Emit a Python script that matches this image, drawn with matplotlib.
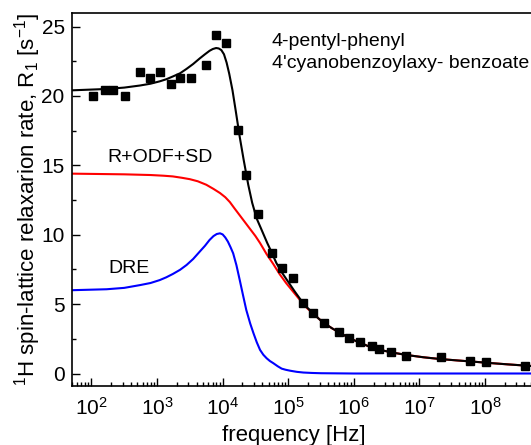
import numpy as np
import matplotlib
matplotlib.use("Agg")
import matplotlib.pyplot as plt
from matplotlib.ticker import MultipleLocator, LogLocator

# ---------------------------------------------------------
# data
# ---------------------------------------------------------

# measured R1 points
meas_freq = [105, 160, 210, 320, 550, 780, 1100, 1650, 2250, 3300,
             5600, 7900, 11200, 17000, 23000, 34500, 57500, 81000, 117000,
             170000, 240000, 355000, 600000, 850000, 1.23e6, 1.86e6,
             2.45e6, 3.7e6, 6.3e6, 2.1e7, 5.9e7, 1.05e8, 4.1e8]
meas_r1 = [20.0, 20.4, 20.4, 20.0, 21.75, 21.3, 21.75, 20.85, 21.3, 21.3,
           22.2, 24.4, 23.8, 17.55, 14.3, 11.5, 8.7, 7.6, 6.9,
           5.1, 4.37, 3.65, 3.0, 2.58, 2.29, 1.98,
           1.74, 1.57, 1.28, 1.17, 0.92, 0.8, 0.56]

# high frequency tail shared by total fit and R+ODF+SD (log10 of frequency)
tail_logf = [5.39, 5.46, 5.54, 5.67, 5.80, 5.92, 6.05, 6.22, 6.40, 6.60,
             6.81, 7.06, 7.32, 7.58, 7.83, 8.09, 8.34, 8.74]
tail_r1 = [4.3, 3.97, 3.65, 3.25, 2.9, 2.58, 2.3, 1.97, 1.7, 1.5,
           1.33, 1.17, 1.04, 0.94, 0.85, 0.75, 0.66, 0.53]

# total fit (black)
total_logf = [1.69, 2.23, 2.50, 2.74, 2.90, 3.04, 3.14, 3.24, 3.35, 3.45,
              3.55, 3.65, 3.73, 3.80, 3.85, 3.90, 3.94, 3.98, 4.02, 4.06,
              4.10, 4.15, 4.20, 4.26, 4.32, 4.39, 4.45, 4.52, 4.58, 4.63,
              4.68, 4.73, 4.82, 4.90, 5.00, 5.10, 5.23, 5.30]
total_r1 = [20.4, 20.5, 20.6, 20.75, 20.88, 21.05, 21.2, 21.4, 21.63, 21.95,
            22.3, 22.7, 23.0, 23.25, 23.38, 23.45, 23.42, 23.3, 23.0, 22.4,
            21.6, 20.4, 18.9, 17.05, 15.4, 13.6, 12.3, 11.15, 10.5, 9.95,
            9.4, 8.9, 7.95, 7.3, 6.6, 5.9, 5.05, 4.7]

# R+ODF+SD contribution (red)
rsd_logf = [1.69, 2.50, 2.90, 3.10, 3.24, 3.38, 3.50, 3.62, 3.75, 3.86,
            3.96, 4.04, 4.11, 4.18, 4.26, 4.34, 4.42, 4.50, 4.57, 4.67,
            4.77, 4.87, 4.97, 5.10, 5.23, 5.30]
rsd_r1 = [14.4, 14.35, 14.3, 14.25, 14.2, 14.1, 14.0, 13.85, 13.6, 13.3,
          13.0, 12.7, 12.35, 11.9, 11.4, 10.9, 10.4, 9.9, 9.4, 8.6,
          7.9, 7.15, 6.5, 5.75, 5.0, 4.65]

# DRE contribution (blue)
dre_logf = [1.69, 2.23, 2.50, 2.74, 2.90, 3.04, 3.14, 3.24, 3.35, 3.45,
            3.55, 3.65, 3.73, 3.80, 3.86, 3.91, 3.96, 4.00, 4.04, 4.08,
            4.12, 4.16, 4.21, 4.26, 4.31, 4.36, 4.42, 4.47, 4.52, 4.57,
            4.62, 4.67, 4.72, 4.77, 4.84, 4.90, 4.96, 5.03, 5.13, 5.23,
            5.36, 5.50, 5.75, 6.00, 8.74]
dre_r1 = [6.0, 6.07, 6.17, 6.37, 6.52, 6.73, 6.93, 7.17, 7.47, 7.82,
          8.25, 8.78, 9.2, 9.62, 9.9, 10.05, 10.1, 10.02, 9.8, 9.5,
          9.1, 8.66, 7.8, 6.74, 5.65, 4.58, 3.6, 2.9, 2.25, 1.7,
          1.35, 1.1, 0.9, 0.75, 0.52, 0.35, 0.27, 0.2, 0.12, 0.07,
          0.04, 0.02, 0.01, 0.0, 0.0]

x_ticks = [1e2, 1e3, 1e4, 1e5, 1e6, 1e7, 1e8]
y_ticks = [0, 5, 10, 15, 20, 25]

# ---------------------------------------------------------
# plot
# ---------------------------------------------------------

plt.rcParams['font.family'] = ['Liberation Sans', 'DejaVu Sans']
plt.rcParams['mathtext.fontset'] = 'custom'
plt.rcParams['mathtext.rm'] = 'Liberation Sans'
plt.rcParams['mathtext.it'] = 'Liberation Sans:italic'
plt.rcParams['mathtext.default'] = 'regular'

fig = plt.figure(figsize=(5.31, 4.45), dpi=100)
ax = fig.add_axes([0.135, 0.1326, 0.8688, 0.839])

total_f = 10.0 ** np.array(total_logf + tail_logf)
rsd_f = 10.0 ** np.array(rsd_logf + tail_logf)
dre_f = 10.0 ** np.array(dre_logf)

ax.plot(rsd_f, rsd_r1 + tail_r1, color='#ff0000', lw=1.5, zorder=2)
ax.plot(dre_f, dre_r1, color='#0000ff', lw=1.5, zorder=2)
ax.plot(total_f, total_r1 + tail_r1, color='black', lw=1.5, zorder=3)
ax.plot(meas_freq, meas_r1, 's', color='black', ms=6, zorder=4)

ax.set_xscale('log')
ax.set_xlim(10 ** 1.698, 10 ** 8.732)
ax.set_ylim(-0.9, 26)
ax.set_xticks(x_ticks)
ax.set_yticks(y_ticks)
ax.yaxis.set_minor_locator(MultipleLocator(2.5))
ax.xaxis.set_minor_locator(LogLocator(base=10, subs=np.arange(2, 10), numticks=20))

ax.tick_params(which='both', direction='in', top=False, right=False,
               labelsize=15, width=1)
ax.tick_params(which='major', length=6)
ax.tick_params(axis='x', which='major', pad=8)
ax.tick_params(axis='y', which='major', pad=5)
ax.tick_params(which='minor', length=3)
for sp in ax.spines.values():
    sp.set_linewidth(1.2)

ax.set_xlabel('frequency [Hz]', fontsize=16)
ax.xaxis.set_label_coords(0.481, -0.105)
ax.set_ylabel(r'$^{1}$H spin-lattice relaxarion rate, R$_{1}$ [s$^{-1}$]',
              fontsize=16)
ax.yaxis.set_label_coords(-0.062, 0.5)

ax.text(0.434, 0.922, '4-pentyl-phenyl', transform=ax.transAxes,
        fontsize=14, va='center', ha='left')
ax.text(0.434, 0.864, "4'cyanobenzoylaxy- benzoate", transform=ax.transAxes,
        fontsize=14, va='center', ha='left')
ax.text(0.0765, 0.611, 'R+ODF+SD', transform=ax.transAxes,
        fontsize=14, va='center', ha='left')
ax.text(0.0785, 0.316, 'DRE', transform=ax.transAxes,
        fontsize=14, va='center', ha='left')

fig.savefig('out.png', dpi=100)
